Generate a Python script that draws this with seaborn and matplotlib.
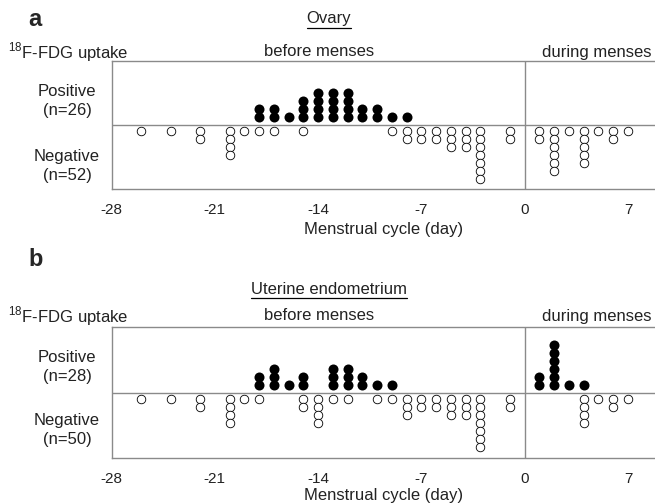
import matplotlib

matplotlib.use("Agg")

import matplotlib.pyplot as plt  # noqa: E402
import pandas as pd  # noqa: E402
import seaborn as sns  # noqa: E402
from matplotlib.lines import Line2D  # noqa: E402

# ---- data: day of menstrual cycle and number of patients at that day ----
ovary_pos_days = [-18, -17, -16, -15, -14, -13, -12, -11, -10, -9, -8]
ovary_pos_counts = [2, 2, 1, 3, 4, 4, 4, 2, 2, 1, 1]
ovary_neg_days = [-26, -24, -22, -20, -19, -18, -17, -15, -9, -8, -7, -6,
                  -5, -4, -3, -1, 1, 2, 3, 4, 5, 6, 7]
ovary_neg_counts = [1, 1, 2, 4, 1, 1, 1, 1, 1, 2, 2, 2,
                    3, 3, 7, 2, 2, 6, 1, 5, 1, 2, 1]

uterus_pos_days = [-18, -17, -16, -15, -13, -12, -11, -10, -9, 1, 2, 3, 4]
uterus_pos_counts = [2, 3, 1, 2, 3, 3, 2, 1, 1, 2, 6, 1, 1]
uterus_neg_days = [-26, -24, -22, -20, -19, -18, -15, -14, -13, -12, -10, -9,
                   -8, -7, -6, -5, -4, -3, -1, 4, 5, 6, 7]
uterus_neg_counts = [1, 1, 2, 4, 1, 1, 2, 4, 1, 1, 1, 1,
                     3, 2, 2, 3, 3, 7, 2, 4, 1, 2, 1]

x_ticks = [-28, -21, -14, -7, 0, 7]

W, H = 655, 504
GRAY = "#8a8a8a"

sns.set_style("white")
plt.rcParams["font.family"] = ["Liberation Sans", "DejaVu Sans"]


def stack(days, counts, sign):
    """Expand counts into stacked dot positions."""
    rows = []
    for d, c in zip(days, counts):
        for k in range(1, c + 1):
            y = k if sign > 0 else -(k - 0.25)
            rows.append({"day": d, "level": y})
    return pd.DataFrame(rows)


def fx(x):
    return x / W


def fy(y):
    return 1 - y / H


def underline(fig, t):
    fig.canvas.draw()
    bb = t.get_window_extent(fig.canvas.get_renderer())
    y = bb.y0 - 1.5
    fig.add_artist(Line2D([bb.x0 / W, bb.x1 / W], [y / H, y / H],
                          transform=fig.transFigure, color="black", lw=0.9))


def draw_panel(fig, rect, pos_days, pos_counts, neg_days, neg_counts, ylim,
               labelpad):
    ax = fig.add_axes(rect)
    pos = stack(pos_days, pos_counts, 1)
    neg = stack(neg_days, neg_counts, -1)
    sns.scatterplot(data=pos, x="day", y="level", ax=ax, color="black",
                    edgecolor="black", s=52, linewidth=0, zorder=3)
    sns.scatterplot(data=neg, x="day", y="level", ax=ax, facecolor="white",
                    edgecolor="black", s=38, linewidth=0.6, zorder=3)
    ax.axhline(0, color=GRAY, lw=1.0, zorder=1)
    ax.axvline(0, color=GRAY, lw=1.0, zorder=1)
    ax.set_xlim(-28, 8.83)
    ax.set_ylim(*ylim)
    ax.set_xticks(x_ticks)
    ax.set_xticklabels([str(t) for t in x_ticks])
    ax.set_yticks([])
    ax.tick_params(axis="x", direction="in", length=3, width=0.8,
                   color=GRAY, pad=10, labelsize=11, labelcolor="#222222")
    for side in ["left", "top", "bottom"]:
        ax.spines[side].set_color(GRAY)
        ax.spines[side].set_linewidth(1.0)
    ax.spines["right"].set_visible(False)
    ax.set_xlabel("Menstrual cycle (day)", fontsize=12, labelpad=labelpad,
                  color="#222222")
    ax.set_ylabel("")
    return ax


fig = plt.figure(figsize=(W / 100, H / 100), dpi=100)

# panel a: ovary
draw_panel(fig, [111.5 / W, 1 - 189 / H, 1 - 111.5 / W, 128 / H],
           ovary_pos_days, ovary_pos_counts, ovary_neg_days, ovary_neg_counts,
           (-8.0, 8.0), 4)
# panel b: uterine endometrium
draw_panel(fig, [111.5 / W, 1 - 458.3 / H, 1 - 111.5 / W, 131 / H],
           uterus_pos_days, uterus_pos_counts, uterus_neg_days,
           uterus_neg_counts, (-8.1, 8.2), 1)

txt = dict(fontsize=12, color="#222222")
# letter y, title y, header y, positive y, negative y
panels = [
    ("a", "Ovary", 26, 52, (20, 19, 52, 101, 166)),
    ("b", "Uterine endometrium", 28, 50, (260, 289, 316, 367, 430)),
]
for letter, title, npos, nneg, (l_y, t_y, h_y, p_y, n_y) in panels:
    fig.text(fx(28), fy(l_y), letter, fontsize=17, fontweight="bold",
             va="center", ha="left")
    t = fig.text(fx(329), fy(t_y), title, ha="center", va="center", **txt)
    underline(fig, t)
    fig.text(fx(8), fy(h_y), r"$^{\mathregular{18}}$F-FDG uptake",
             ha="left", va="center", **txt)
    fig.text(fx(319), fy(h_y), "before menses", ha="center", va="center",
             **txt)
    fig.text(fx(597), fy(h_y), "during menses", ha="center", va="center",
             **txt)
    fig.text(fx(67), fy(p_y), f"Positive\n(n={npos})", ha="center",
             va="center", linespacing=1.3, **txt)
    fig.text(fx(67), fy(n_y), f"Negative\n(n={nneg})", ha="center",
             va="center", linespacing=1.3, **txt)

fig.savefig("out.png", dpi=100)
